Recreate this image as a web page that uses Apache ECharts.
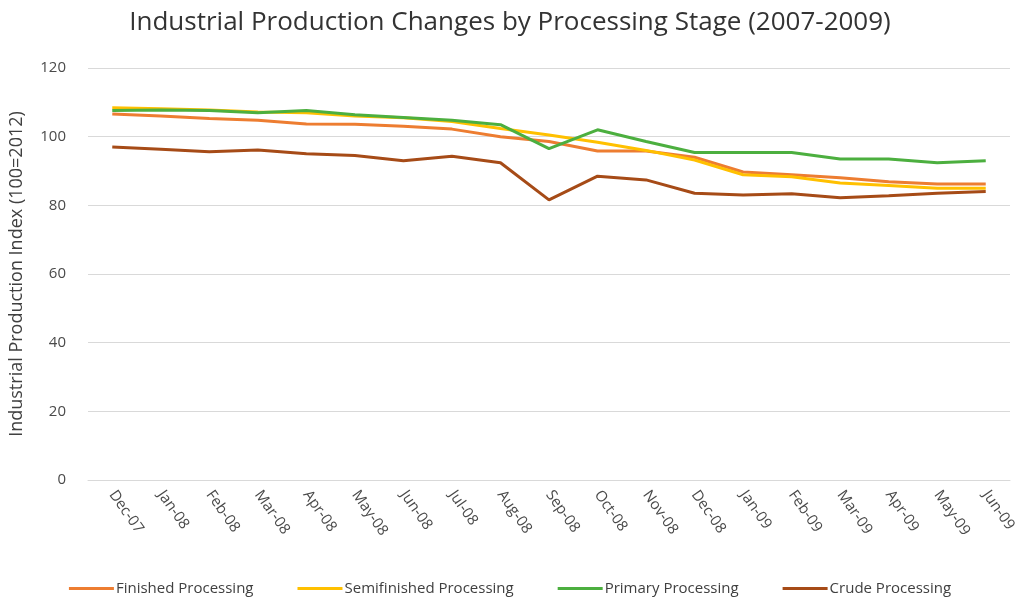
<!DOCTYPE html>
<html>
<head>
<meta charset="utf-8">
<script src="https://cdn.jsdelivr.net/npm/echarts@6/dist/echarts.min.js"></script>
<style>
  html, body { margin: 0; padding: 0; background: #fff; }
  #chart { width: 1020px; height: 605px; }
</style>
</head>
<body>
<div id="chart"></div>
<script>
// Monthly industrial production index by processing stage, Dec 2007 - Jun 2009
const months = ['Dec-07','Jan-08','Feb-08','Mar-08','Apr-08','May-08','Jun-08','Jul-08','Aug-08',
  'Sep-08','Oct-08','Nov-08','Dec-08','Jan-09','Feb-09','Mar-09','Apr-09','May-09','Jun-09'];

const finished     = [106.6,106.0,105.3,104.8,103.7,103.6,103.0,102.2,100.0,98.6,95.8,95.8,94.0,89.7,88.9,88.0,86.9,86.2,86.2];
const semifinished = [108.4,108.1,107.8,107.2,107.0,106.0,105.5,104.4,102.4,100.5,98.4,96.0,93.2,88.9,88.3,86.5,85.8,85.0,85.0];
const primary      = [107.6,107.8,107.6,107.0,107.6,106.4,105.6,104.8,103.5,96.5,102.0,98.6,95.4,95.4,95.4,93.5,93.5,92.4,93.0];
const crude        = [97.0,96.3,95.6,96.1,95.0,94.5,93.0,94.3,92.4,81.6,88.5,87.4,83.5,83.0,83.4,82.2,82.8,83.5,84.0];

const yTicks = { min: 0, max: 120, interval: 20 };

const seriesDefs = [
  { name: 'Finished Processing',     data: finished,     color: '#ED7D31' },
  { name: 'Semifinished Processing', data: semifinished, color: '#FFC000' },
  { name: 'Primary Processing',      data: primary,      color: '#4CAF3F' },
  { name: 'Crude Processing',        data: crude,        color: '#A64B17' }
];

const font = "'Open Sans', 'Liberation Sans', sans-serif";
const chart = echarts.init(document.getElementById('chart'), null, { renderer: 'canvas' });

chart.setOption({
  backgroundColor: '#ffffff',
  animation: false,
  title: {
    text: 'Industrial Production Changes by Processing Stage (2007-2009)',
    left: 'center',
    top: 5,
    textStyle: { fontFamily: font, fontSize: 26, fontWeight: 'normal', color: '#333333' }
  },
  legend: {
    bottom: 4,
    left: 'center',
    itemWidth: 45,
    itemHeight: 3,
    itemGap: 44,
    icon: 'rect',
    textStyle: { fontFamily: font, fontSize: 15, color: '#404040', padding: [0, 0, 0, -3] },
    data: seriesDefs.map(s => s.name)
  },
  grid: { left: 88, right: 10, top: 68, bottom: 125 },
  xAxis: {
    type: 'category',
    data: months,
    boundaryGap: true,
    axisLine: { show: true, lineStyle: { color: '#d9d9d9' } },
    axisTick: { show: false },
    axisLabel: {
      rotate: -55,
      interval: 0,
      margin: 12,
      fontFamily: font,
      fontSize: 15,
      color: '#4a4a4a'
    }
  },
  yAxis: {
    type: 'value',
    min: yTicks.min,
    max: yTicks.max,
    interval: yTicks.interval,
    name: 'Industrial Production Index (100=2012)',
    nameLocation: 'middle',
    nameGap: 62,
    nameTextStyle: { fontFamily: font, fontSize: 18, color: '#404040' },
    axisLine: { show: false },
    axisTick: { show: false },
    axisLabel: { fontFamily: font, fontSize: 15, color: '#4a4a4a', margin: 22 },
    splitLine: { lineStyle: { color: '#d9d9d9', width: 1 } }
  },
  series: seriesDefs.map(s => ({
    name: s.name,
    type: 'line',
    data: s.data,
    symbol: 'none',
    smooth: false,
    itemStyle: { color: s.color },
    lineStyle: { color: s.color, width: 3 }
  }))
});
</script>
</body>
</html>
